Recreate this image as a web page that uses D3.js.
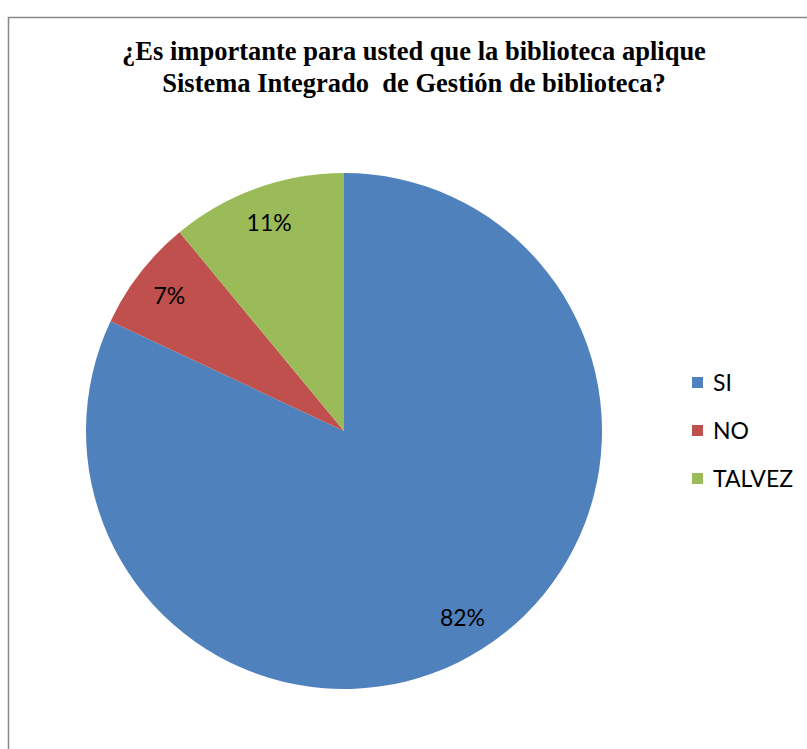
<!DOCTYPE html>
<html><head><meta charset="utf-8">
<script src="https://cdn.jsdelivr.net/npm/d3@7"></script>
<style>body{margin:0;background:#fff}svg{display:block}</style>
</head><body>
<script>
const categories = ["SI", "NO", "TALVEZ"];
const values = [82, 7, 11];
const labels = ["82%", "7%", "11%"];
const colors = ["#4F81BD", "#C0504D", "#9BBB59"];
const titleLines = ["¿Es importante para usted que la biblioteca aplique", "Sistema Integrado  de Gestión de biblioteca?"];

const W = 807, H = 749;
const svg = d3.select("body").append("svg").attr("width", W).attr("height", H);
svg.append("rect").attr("x", 8.5).attr("y", 17.5).attr("width", 820).attr("height", 760)
  .attr("fill", "#fff").attr("stroke", "#878787").attr("stroke-width", 1.5);

svg.selectAll("text.title").data(titleLines).join("text")
  .attr("x", 414).attr("y", (d, i) => 60 + i * 32)
  .attr("text-anchor", "middle")
  .style("font-family", "'Liberation Serif', 'Times New Roman', serif")
  .style("font-weight", "bold").style("font-size", "26.5px")
  .style("white-space", "pre")
  .text(d => d);

const cx = 344, cy = 431, R = 258;
const data = categories.map((c, i) => ({ c, v: values[i], l: labels[i], col: colors[i] }));
const pie = d3.pie().value(d => d.v).sort(null);
const arc = d3.arc().innerRadius(0).outerRadius(R);
const labelArc = d3.arc().innerRadius(R * 0.857).outerRadius(R * 0.857);
const g = svg.append("g").attr("transform", `translate(${cx},${cy})`);
const arcs = pie(data);
g.selectAll("path").data(arcs).join("path").attr("d", arc).attr("fill", d => d.data.col);
g.selectAll("text").data(arcs).join("text")
  .attr("transform", d => `translate(${labelArc.centroid(d)})`)
  .attr("text-anchor", "middle").attr("dy", "0.35em")
  .style("font-family", "Lato, 'Open Sans', sans-serif").style("font-size", "23px")
  .text(d => d.data.l);

const leg = svg.append("g");
const items = leg.selectAll("g").data(data).join("g")
  .attr("transform", (d, i) => `translate(692, ${382.5 + i * 48})`);
items.append("rect").attr("x", 0).attr("y", -5.5).attr("width", 11).attr("height", 11).attr("fill", d => d.col);
items.append("text").attr("x", 21).attr("dy", "0.35em")
  .style("font-family", "Lato, 'Open Sans', sans-serif").style("font-size", "23px")
  .text(d => d.c);
</script>
</body></html>
